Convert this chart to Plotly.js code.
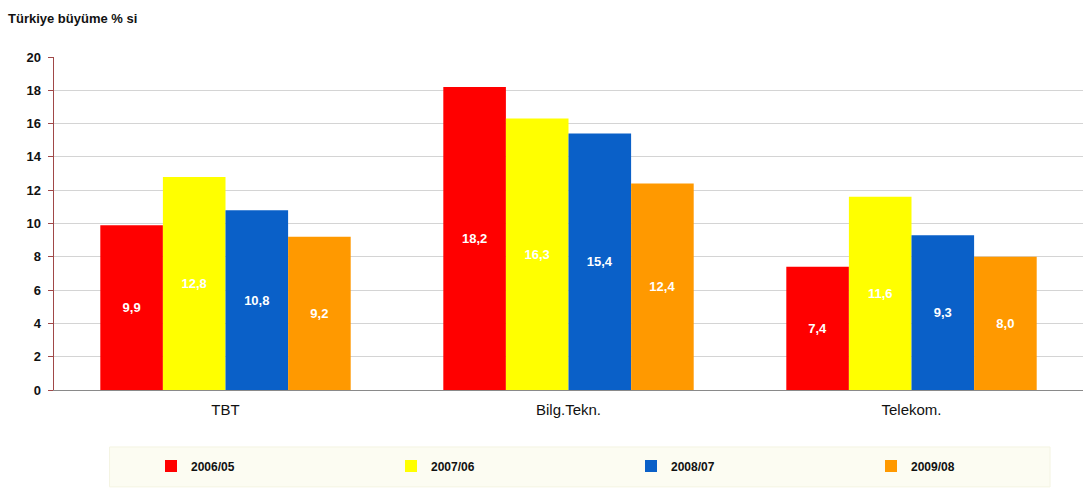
<!DOCTYPE html>
<html>
<head>
<meta charset="utf-8">
<script src="https://cdn.plot.ly/plotly-3.0.1.min.js"></script>
<style>
  html, body { margin: 0; padding: 0; background: #ffffff; }
  #chart { width: 1083px; height: 493px; }
</style>
</head>
<body>
<div id="chart"></div>
<script>
// Sector categories along the x axis
const categories = ['TBT', 'Bilg.Tekn.', 'Telekom.'];

// Growth (%) per period
const period2006 = [9.9, 18.2, 7.4];
const period2007 = [12.8, 16.3, 11.6];
const period2008 = [10.8, 15.4, 9.3];
const period2009 = [9.2, 12.4, 8.0];

const seriesNames = ['2006/05', '2007/06', '2008/07', '2009/08'];
const seriesColors = ['#ff0000', '#ffff00', '#0a60c8', '#ff9900'];
const seriesValues = [period2006, period2007, period2008, period2009];

// Values in the labels use a decimal comma
const fmt = v => v.toFixed(1).replace('.', ',');

const traces = seriesValues.map((vals, i) => ({
  type: 'bar',
  name: seriesNames[i],
  x: categories,
  y: vals,
  marker: { color: seriesColors[i], line: { width: 0 } },
  text: vals.map(fmt),
  textposition: 'inside',
  insidetextanchor: 'middle',
  textangle: 0,
  textfont: { family: 'Liberation Sans, Arial, sans-serif', size: 13, color: '#ffffff', weight: 'bold' },
  hoverinfo: 'x+y+name'
}));

const layout = {
  width: 1083,
  height: 493,
  paper_bgcolor: '#ffffff',
  plot_bgcolor: '#ffffff',
  margin: { l: 54, r: 0, t: 57, b: 103 },
  barmode: 'group',
  bargap: 0.27,
  bargroupgap: 0,
  font: { family: 'Liberation Sans, Arial, sans-serif', color: '#111111' },
  title: {
    text: 'Türkiye büyüme % si',
    font: { family: 'Liberation Sans, Arial, sans-serif', size: 13, color: '#111111', weight: 'bold' },
    x: 8 / 1083, xref: 'container', xanchor: 'left',
    y: 1 - 18 / 493, yref: 'container', yanchor: 'middle'
  },
  xaxis: {
    type: 'category',
    showgrid: false,
    showline: true,
    linecolor: '#8a8a8a',
    linewidth: 1,
    ticks: '',
    tickfont: { size: 15, color: '#111111' },
    ticklabelstandoff: 6
  },
  yaxis: {
    range: [0, 20],
    dtick: 2,
    showgrid: true,
    gridcolor: '#d4d4d4',
    gridwidth: 1,
    zeroline: false,
    showline: true,
    linecolor: '#a04848',
    linewidth: 1.5,
    ticks: 'outside',
    ticklen: 5,
    tickcolor: '#a04848',
    tickfont: { size: 13, color: '#111111', weight: 'bold' },
    ticklabelstandoff: 4
  },
  showlegend: true,
  legend: {
    orientation: 'h',
    xref: 'container', yref: 'container',
    x: 151 / 1083, xanchor: 'left',
    y: 1 - 466 / 493, yanchor: 'middle',
    entrywidth: 195,
    entrywidthmode: 'pixels',
    bgcolor: 'rgba(0,0,0,0)',
    font: { size: 12, color: '#111111', weight: 'bold' },
    itemclick: false
  },
  shapes: [{
    type: 'rect',
    xref: 'paper', yref: 'paper',
    x0: 0.054, x1: 0.968, y0: -0.291, y1: -0.171,
    fillcolor: '#fcfcf2',
    line: { color: '#f4f4e2', width: 1 },
    layer: 'below'
  }]
};

Plotly.newPlot('chart', traces, layout, { displayModeBar: false, staticPlot: true });
</script>
</body>
</html>
